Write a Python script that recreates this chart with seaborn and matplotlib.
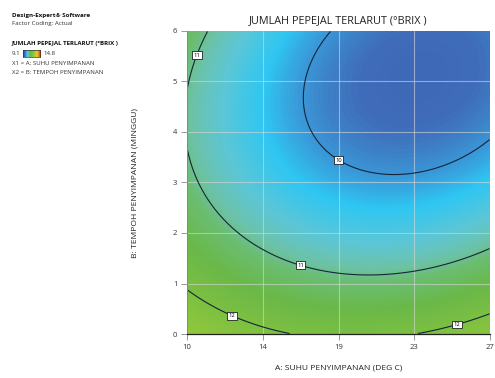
"""
Contour plot of JUMLAH PEPEJAL TERLARUT (°BRIX) vs storage temperature and time.
Surface comes from a quadratic response model (actual factors).
"""

import numpy as np
import matplotlib
matplotlib.use("Agg")
import matplotlib.pyplot as plt
from matplotlib.colors import LinearSegmentedColormap
import seaborn as sns

# ── Model / data ───────────────────────────────────────────────────────────
# Final equation in terms of actual factors (A = temperature, B = weeks)
b0 = 14.9002
bA = -0.3096
bB = -0.6517
bAB = -0.011506
bAA = 0.0080
bBB = 0.0900

a_range = [10, 27]
b_range = [0, 6]
z_range = [9.1, 14.8]
contour_levels = [10, 11, 12]

x_tick_values = [10, 14.25, 18.5, 22.75, 27]
x_tick_labels = ["10", "14", "19", "23", "27"]
y_tick_values = [0, 1, 2, 3, 4, 5, 6]
y_tick_labels = ["0", "1", "2", "3", "4", "5", "6"]

# contour label anchors (A, B)
label_spots = [(10.5, 5.53), (18.5, 3.44), (16.4, 1.41), (12.6, 0.42), (25.1, 0.24)]

# colour ramp stops (value, colour)
ramp_values = [9.1, 9.75, 10.0, 10.25, 10.6, 10.9, 11.1, 11.5, 12.6, 13.6, 14.8]
ramp_colors = ["#3650ac", "#3f6cb8", "#3a96d6", "#2ec6f2", "#5cc6d6", "#6cc2a8",
               "#6abd70", "#6ab848", "#92c83a", "#e8d020", "#e02020"]

TITLE = "JUMLAH PEPEJAL TERLARUT (°BRIX )"
XLABEL = "A: SUHU PENYIMPANAN (DEG C)"
YLABEL = "B: TEMPOH PENYIMPANAN (MINGGU)"


def response(A, B):
    return b0 + bA * A + bB * B + bAB * A * B + bAA * A ** 2 + bBB * B ** 2


def main():
    sns.set_theme(style="white")
    plt.rcParams['font.family'] = ['Open Sans', 'DejaVu Sans']

    fracs = [(v - z_range[0]) / (z_range[1] - z_range[0]) for v in ramp_values]
    cmap = LinearSegmentedColormap.from_list("de", list(zip(fracs, ramp_colors)))

    nx, ny = 340, 300
    span_a = a_range[1] - a_range[0]
    span_b = b_range[1] - b_range[0]
    a_cells = a_range[0] + (np.arange(nx) + 0.5) * span_a / nx
    b_cells = b_range[1] - (np.arange(ny) + 0.5) * span_b / ny
    AA, BB = np.meshgrid(a_cells, b_cells)
    Z = response(AA, BB)

    def ix(a):
        return (np.asarray(a) - a_range[0]) / span_a * nx

    def iy(b):
        return (b_range[1] - np.asarray(b)) / span_b * ny

    fig = plt.figure(figsize=(4.95, 3.78), dpi=100)
    ax = fig.add_axes([0.3778, 0.1164, 0.6121, 0.8016])

    sns.heatmap(Z, cmap=cmap, vmin=z_range[0], vmax=z_range[1], cbar=False,
                xticklabels=False, yticklabels=False, ax=ax, rasterized=True)
    ax.set_xlim(0, nx)
    ax.set_ylim(ny, 0)

    # grid
    for xv in x_tick_values[1:-1]:
        ax.axvline(ix(xv), color="#d8d8d8", lw=0.8, alpha=0.6)
    for yv in y_tick_values[1:-1]:
        ax.axhline(iy(yv), color="#d8d8d8", lw=0.8, alpha=0.6)

    # contours
    cs = ax.contour(ix(AA), iy(BB), Z, levels=contour_levels,
                    colors="#15253a", linewidths=0.8)
    spots = [(float(ix(a)), float(iy(b))) for a, b in label_spots]
    texts = ax.clabel(cs, fmt="%d", inline=False, fontsize=4.2, manual=spots)
    for t in texts:
        t.set_rotation(0)
        t.set_color("black")
        t.set_bbox(dict(facecolor="white", edgecolor="black", lw=0.5, pad=1.0))

    ax.set_xticks(ix(x_tick_values))
    ax.set_xticklabels(x_tick_labels, fontsize=5.5, color="#333333")
    ax.set_yticks(iy(y_tick_values))
    ax.set_yticklabels(y_tick_labels, fontsize=5.5, color="#333333", rotation=0)
    ax.tick_params(axis="both", direction="out", length=4, width=0.6,
                   color="#888888", pad=3, bottom=True, left=True)
    for side in ["top", "right"]:
        ax.spines[side].set_visible(False)
    ax.spines["left"].set_visible(True)
    ax.spines["left"].set_color("#888888")
    ax.spines["left"].set_linewidth(0.7)
    ax.spines["bottom"].set_visible(True)
    ax.spines["bottom"].set_color("#222222")
    ax.spines["bottom"].set_linewidth(0.9)

    fig.text(0.684, 0.945, TITLE, ha="center", va="center", fontsize=7.8, color="#222222")
    fig.text(0.684, 0.026, XLABEL, ha="center", va="center", fontsize=6.1, color="#222222")
    fig.text(0.273, 0.516, YLABEL, ha="center", va="center", rotation=90,
             fontsize=6.1, color="#222222")

    # side legend block
    fig.text(0.024, 0.960, "Design-Expert® Software", fontsize=4.5, fontweight="bold",
             va="center", color="#111111")
    fig.text(0.024, 0.937, "Factor Coding: Actual", fontsize=4.4, va="center", color="#333333")
    fig.text(0.024, 0.886, TITLE, fontsize=4.4, fontweight="bold", va="center", color="#111111")
    fig.text(0.024, 0.858, "9.1", fontsize=4.4, va="center", color="#333333")
    fig.text(0.087, 0.858, "14.8", fontsize=4.4, va="center", color="#333333")
    fig.text(0.024, 0.832, "X1 = A: SUHU PENYIMPANAN", fontsize=4.4, va="center", color="#333333")
    fig.text(0.024, 0.807, "X2 = B: TEMPOH PENYIMPANAN", fontsize=4.4, va="center", color="#333333")

    bar_ax = fig.add_axes([0.046, 0.849, 0.035, 0.019])
    bar_ax.imshow(np.linspace(0, 1, 100)[None, :], aspect="auto", cmap=cmap)
    bar_ax.set_xticks([])
    bar_ax.set_yticks([])
    for s in bar_ax.spines.values():
        s.set_visible(True)
        s.set_color("#333333")
        s.set_linewidth(0.5)

    fig.savefig("out.png", dpi=100)
    plt.close(fig)


if __name__ == "__main__":
    main()
